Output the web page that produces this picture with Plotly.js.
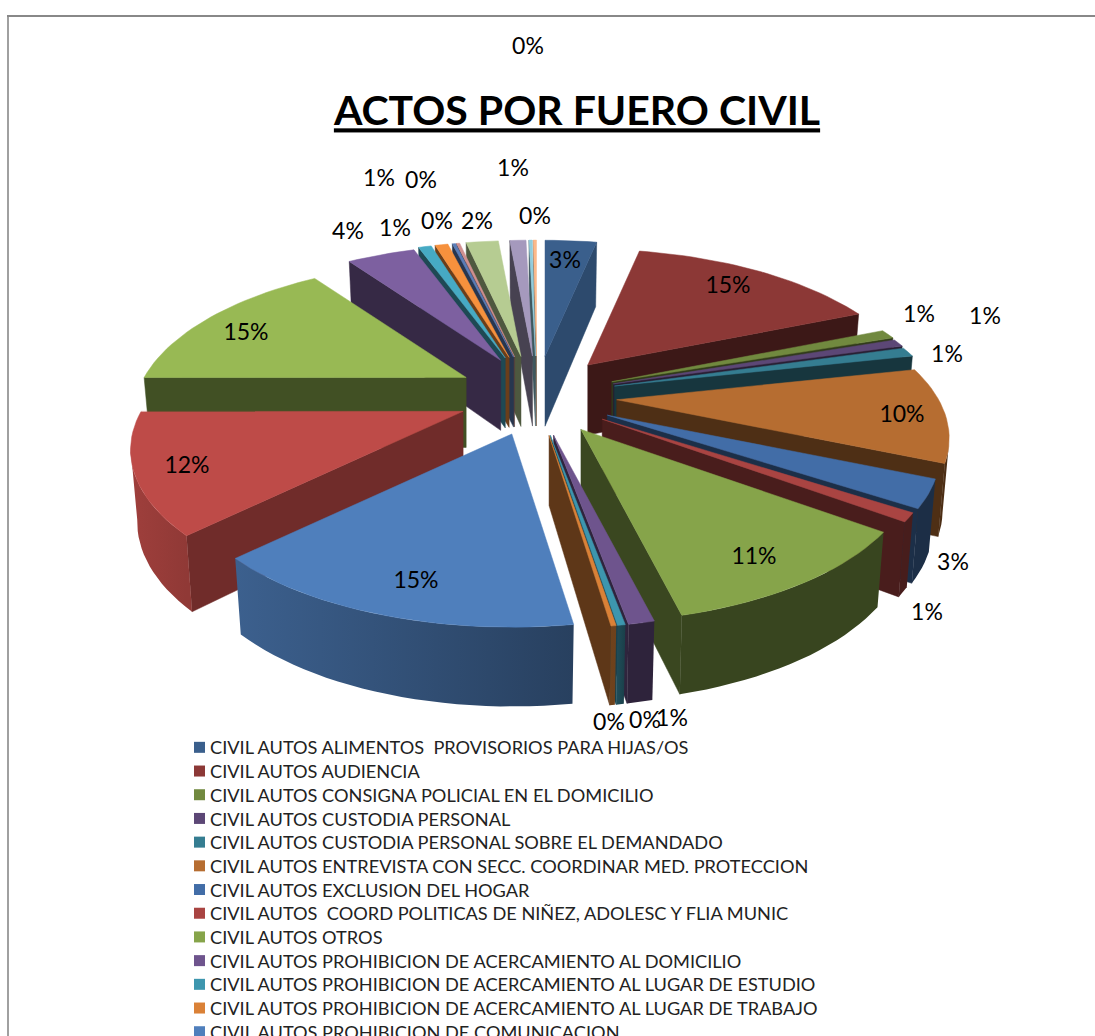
<!DOCTYPE html>
<html><head><meta charset="utf-8">
<script src="https://cdn.plot.ly/plotly-3.0.1.min.js"></script>
<style>html,body{margin:0;padding:0;width:1095px;height:1036px;overflow:hidden;background:#fff}</style>
</head><body><div id="chart" style="width:1095px;height:1100px"></div>
<script>
// ---- chart values ----
const categories = [
 "CIVIL AUTOS ALIMENTOS  PROVISORIOS PARA HIJAS/OS",
 "CIVIL AUTOS AUDIENCIA",
 "CIVIL AUTOS CONSIGNA POLICIAL EN EL DOMICILIO",
 "CIVIL AUTOS CUSTODIA PERSONAL",
 "CIVIL AUTOS CUSTODIA PERSONAL SOBRE EL DEMANDADO",
 "CIVIL AUTOS ENTREVISTA CON SECC. COORDINAR MED. PROTECCION",
 "CIVIL AUTOS EXCLUSION DEL HOGAR",
 "CIVIL AUTOS  COORD POLITICAS DE NIÑEZ, ADOLESC Y FLIA MUNIC",
 "CIVIL AUTOS OTROS",
 "CIVIL AUTOS PROHIBICION DE ACERCAMIENTO AL DOMICILIO",
 "CIVIL AUTOS PROHIBICION DE ACERCAMIENTO AL LUGAR DE ESTUDIO",
 "CIVIL AUTOS PROHIBICION DE ACERCAMIENTO AL LUGAR DE TRABAJO",
 "CIVIL AUTOS PROHIBICION DE COMUNICACION"
];
const values = [3.2,15.49,1.0,0.8,1.0,10.0,2.9,0.9,10.9,1.0,0.3,0.2,14.81,12.49,15.41,4.2,0.8,0.8,0.2,0.2,2.0,1.0,0.2,0.2];
const colors = ["#3A5F8C","#8C3836","#71893F","#5C4776","#357D91","#B66D31","#426DA7","#A94442","#86A44A","#6E548D","#3D96AE","#DA8137","#4F7FBC","#BE4B48","#98B954","#7D60A0","#46AAC4","#F6913D","#5A7DB8","#D09090","#B6CC92","#A599BD","#92CDDD","#FCB98A"];
const labelX = [565,728,919,985,947,902,953,927,754,672,645,609,416,187,246,348,395,379,421,437,477,513,535,528];
const labelY = [262,287,316,318,356,416,564,614,558,720,722,724,582,467,334,233,230,180,182,223,223,170,218,48];
// small horizontal shift of a slice's apex, in pixels
const apexNudge = [0,0,0,0,0,0,0,0,0,0,0,0,0,0,0,0,-7,-7,-5,-5,-4,0,0,0];

// ---- projection settings ----
const W=1095,H=1100,cx=537,cy=396,R=322,EXPL=80,P=0.25,K=0.45,EK=0.5,D=70;
const rad=d=>d*Math.PI/180;
function shade(hex,f){const n=parseInt(hex.slice(1),16);
  return `rgb(${Math.round((n>>16&255)*f)},${Math.round((n>>8&255)*f)},${Math.round((n&255)*f)})`;}
function rimProj(th,r,z){const X=r*Math.sin(rad(th)),Y=r*Math.cos(rad(th)),s=1/(1+P*Y/R);
  return [X*s*(1-0.02*z),-K*Y*s+z*D*(1+(s-1)*0.4)];}
function outerShade(th){ if(th<170) return 0.42; if(th<230) return 0.5+(th-170)/60*0.28; return 0.78+(th-230)/40*0.09; }

const total=values.reduce((a,b)=>a+b,0);
let cum=0;
const slices=values.map((v,i)=>{const a0=cum/total*360;cum+=v;const a1=cum/total*360;const m=(a0+a1)/2;
  return {i,v,a0,a1,m,ax:cx+EXPL*Math.sin(rad(m))+apexNudge[i],ay:cy-EK*EXPL*Math.cos(rad(m))};});
const order=slices.slice().sort((a,b)=>Math.cos(rad(b.m))-Math.cos(rad(a.m)));

function pt(s,th,r,z){const q=rimProj(th,r,z);return [s.ax+q[0],s.ay+q[1]];}
function facesViewer(p1,p2,inside){const ex=p2[0]-p1[0],ey=p2[1]-p1[1];
  const cDown=ex*1-ey*0, cIn=ex*(inside[1]-p1[1])-ey*(inside[0]-p1[0]);return cDown*cIn<0;}
const poly=(pts,color,extra)=>Object.assign({type:'scatter',mode:'lines',x:pts.map(p=>p[0]),y:pts.map(p=>p[1]),
  fill:'toself',fillcolor:color,line:{color:color,width:0.5},hoverinfo:'skip',showlegend:false},extra||{});

const traces=[];
order.forEach(s=>{
  const base=colors[s.i], wallF=(s.i===0)?0.78:(s.i===13?0.59:0.43);
  const walls=[], rim=[];
  const n=Math.max(2,Math.ceil((s.a1-s.a0)/2));
  for(let j=0;j<=n;j++) rim.push(s.a0+(s.a1-s.a0)*j/n);
  const A=pt(s,0,0,0), M=pt(s,s.m,R,0), Ab=pt(s,0,0,1);
  // radial walls
  [s.a0,s.a1].forEach(th=>{const P1=pt(s,th,R,0),Pb=pt(s,th,R,1);
    if(facesViewer(A,P1,M)) walls.push(poly([A,P1,Pb,Ab,A],shade(base,wallF)));});
  // outer wall runs
  let run=[];
  const flush=()=>{ if(run.length>1){
      const top=run.map(t=>pt(s,t,R,0)), bot=run.map(t=>pt(s,t,R,1)).reverse();
      const pts=top.concat(bot,[top[0]]);
      const xa=top[0][0],xb=top[top.length-1][0];
      const ca=shade(base,outerShade(run[0])),cb=shade(base,outerShade(run[run.length-1]));
      const lo=Math.min(xa,xb),hi=Math.max(xa,xb);
      walls.push(poly(pts,ca,{line:{width:0,color:ca},fillgradient:{type:'horizontal',start:lo,stop:hi,
        colorscale:xa<xb?[[0,ca],[1,cb]]:[[0,cb],[1,ca]]}}));
    } run=[]; };
  for(let j=0;j<n;j++){
    const p1=pt(s,rim[j],R,0),p2=pt(s,rim[j+1],R,0);
    if(facesViewer(p1,p2,A)){ if(!run.length) run.push(rim[j]); run.push(rim[j+1]); } else flush();
  }
  flush();
  walls.forEach(w=>traces.push(w));
  traces.push(poly([A].concat(rim.map(t=>pt(s,t,R,0)),[A]),base));
});

// percentage labels
traces.push({type:'scatter',mode:'text',x:labelX,y:labelY,text:values.map(v=>Math.round(v)+'%'),
  textposition:'middle center',textfont:{family:'Lato, Carlito, sans-serif',size:23,color:'#000'},
  hoverinfo:'skip',showlegend:false});
// legend entries
categories.forEach((c,i)=>traces.push({type:'scatter',mode:'markers',x:[null],y:[null],name:c,
  marker:{symbol:'square',size:11,color:colors[i]},showlegend:true,hoverinfo:'skip'}));

const ROW=23.7, LEGEND_TOP=729;
const layout={width:W,height:H,margin:{l:0,r:0,t:0,b:0},paper_bgcolor:'#fff',plot_bgcolor:'#fff',
  title:{text:'<b><u>ACTOS POR FUERO CIVIL</u></b>',x:577/W,xanchor:'center',y:1-111/H,yanchor:'middle',
    font:{family:'Lato, Carlito, sans-serif',size:41,color:'#000'}},
  xaxis:{range:[0,W],visible:false,fixedrange:true},
  yaxis:{range:[H,0],visible:false,fixedrange:true},
  legend:{x:170/W,xanchor:'left',y:1-LEGEND_TOP/H,yanchor:'top',bgcolor:'rgba(0,0,0,0)',traceorder:'normal',
    font:{family:'Lato, Carlito, sans-serif',size:18.2,color:'#222'},tracegroupgap:0,itemclick:false,itemdoubleclick:false},
  shapes:[
    {type:'line',xref:'x',yref:'y',x0:8,x1:8,y0:16,y1:H,line:{color:'#a0a0a0',width:2}},
    {type:'line',xref:'x',yref:'y',x0:7,x1:W,y0:16,y1:16,line:{color:'#888',width:2}}
  ]};
Plotly.newPlot('chart',traces,layout,{displayModeBar:false}).then(gd=>{
  gd.querySelectorAll('.legendsymbols').forEach(n=>n.setAttribute('transform','translate(9.5,0)'));
  const rows=gd.querySelectorAll('.legend .traces');
  rows.forEach((n,i)=>{
    const m=/translate\(\s*([-\d.]+)[ ,]+([-\d.]+)/.exec(n.getAttribute('transform')||'');
    if(m) n.setAttribute('transform',`translate(${m[1]},${(+m[2]-i*(26.66-ROW)).toFixed(2)})`);
  });
});
</script></body></html>
